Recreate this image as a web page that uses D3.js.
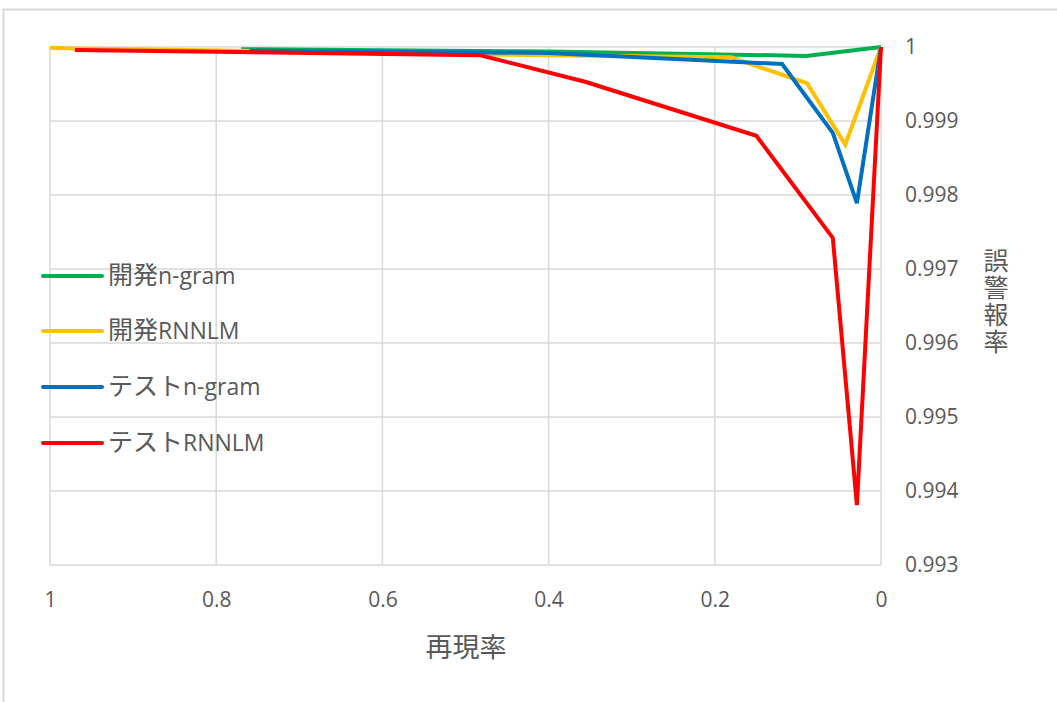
<!DOCTYPE html>
<html><head><meta charset="utf-8">
<script src="https://cdn.jsdelivr.net/npm/d3@7"></script>
<style>body{margin:0;background:#fff}svg{display:block}</style>
</head><body>
<svg id="c" width="1057" height="702"></svg>
<script>
const seriesNames = ["開発n-gram", "開発RNNLM", "テストn-gram", "テストRNNLM"];
const seriesColors = ["#00B050", "#FFC000", "#0070C0", "#FF0000"];
const devNgram = [[0.77, 0.99997], [0.40, 0.99994], [0.09, 0.99988], [0, 1]];
const devRnnlm = [[1, 0.99999], [0.97, 0.99998], [0.48, 0.99990], [0.18, 0.99986], [0.089, 0.99951], [0.043, 0.99868], [0, 1]];
const testNgram = [[0.76, 0.99995], [0.40, 0.99992], [0.119, 0.99977], [0.058, 0.99884], [0.029, 0.99789], [0, 1]];
const testRnnlm = [[0.97, 0.99996], [0.483, 0.99989], [0.356, 0.99953], [0.150, 0.99880], [0.058, 0.99742], [0.029, 0.99381], [0, 1]];
const seriesData = [devNgram, devRnnlm, testNgram, testRnnlm];
const xTicks = [1, 0.8, 0.6, 0.4, 0.2, 0];
const yTicks = [0.993, 0.994, 0.995, 0.996, 0.997, 0.998, 0.999, 1];
const xTitle = "再現率";
const yTitle = "誤警報率";

const svg = d3.select("#c");
const L = 50, R = 881, T = 47, B = 565;
const x = d3.scaleLinear().domain([1, 0]).range([L, R]);
const y = d3.scaleLinear().domain([0.993, 1]).range([B, T]);
const grid = "#d9d9d9", txt = "#595959";
const latin = "'Open Sans', 'Noto Sans', sans-serif";
const cjk = "'Noto Sans CJK JP', sans-serif";

svg.append("path").attr("d", "M3.5,702 V9.5 H1057").attr("fill", "none").attr("stroke", "#d9d9d9").attr("stroke-width", 2);

// gridlines
svg.append("g").selectAll("line").data(yTicks).join("line")
  .attr("x1", L).attr("x2", R).attr("y1", d => y(d)).attr("y2", d => y(d))
  .attr("stroke", grid).attr("stroke-width", 1.5);
svg.append("g").selectAll("line").data(xTicks).join("line")
  .attr("x1", d => x(d)).attr("x2", d => x(d)).attr("y1", T).attr("y2", B)
  .attr("stroke", grid).attr("stroke-width", 1.5);

// axes (labels via d3 axes, domain hidden)
const xa = svg.append("g").attr("transform", `translate(0,${B})`)
  .call(d3.axisBottom(x).tickValues(xTicks).tickSize(0).tickPadding(27).tickFormat(d3.format("")));
xa.select(".domain").remove();
xa.selectAll("text").attr("font-family", latin).attr("font-size", 21).attr("fill", txt);

const ya = svg.append("g").attr("transform", `translate(${R},0)`)
  .call(d3.axisRight(y).tickValues(yTicks).tickSize(0).tickPadding(24).tickFormat(d3.format("")));
ya.select(".domain").remove();
ya.selectAll("text").attr("font-family", latin).attr("font-size", 21).attr("fill", txt);

// titles
svg.append("text").attr("x", 466).attr("y", 657).attr("text-anchor", "middle")
  .attr("font-family", cjk).attr("font-size", 27).attr("fill", txt).text(xTitle);
svg.append("text").attr("x", 996).attr("y", 302).attr("text-anchor", "middle")
  .attr("font-family", cjk).attr("font-size", 25).attr("fill", txt)
  .style("writing-mode", "vertical-rl").style("letter-spacing", "2px")
  .text(yTitle);

// lines
const line = d3.line().x(d => x(d[0])).y(d => y(d[1]));
svg.append("g").selectAll("path").data(seriesData).join("path")
  .attr("d", line).attr("fill", "none")
  .attr("stroke", (d, i) => seriesColors[i]).attr("stroke-width", 4)
  .attr("stroke-linejoin", "miter").attr("stroke-linecap", "butt");

// legend
const legY = [276, 331, 387, 443];
const lg = svg.append("g").selectAll("g").data(seriesNames).join("g")
  .attr("transform", (d, i) => `translate(0,${legY[i]})`);
lg.append("line").attr("x1", 43).attr("x2", 102).attr("y1", 0).attr("y2", 0)
  .attr("stroke", (d, i) => seriesColors[i]).attr("stroke-width", 4).attr("stroke-linecap", "round");
const lt = lg.append("text").attr("x", 108).attr("y", 8).attr("fill", txt);
lt.each(function(d) {
  const m = d.match(/^([^\x00-\x7f]+)(.*)$/);
  const t = d3.select(this);
  t.append("tspan").attr("font-family", cjk).attr("font-size", 25).text(m[1]);
  t.append("tspan").attr("font-family", latin).attr("font-size", 23).text(m[2]);
});
</script>
</body></html>
